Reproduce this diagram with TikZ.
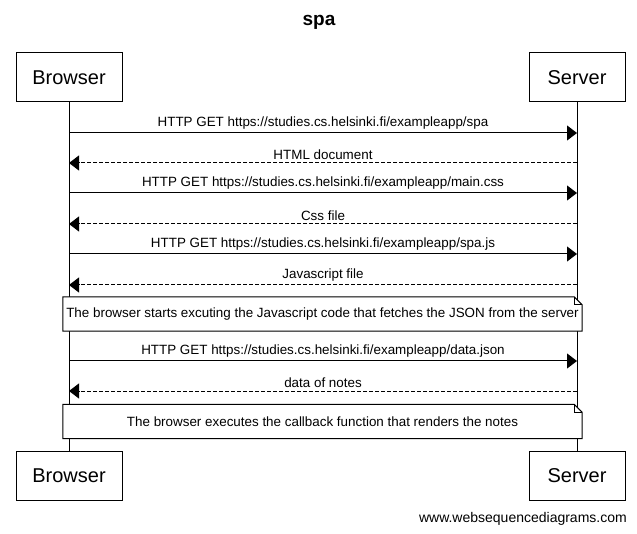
\documentclass[tikz,border=0pt]{standalone}
\usepackage{fontspec}
\setmainfont{Liberation Sans}
\usetikzlibrary{arrows.meta,calc}
\begin{document}
\begin{tikzpicture}[x=1pt,y=-1pt,
  actor/.style={draw,line width=1pt,minimum width=106pt,minimum height=49pt,inner sep=0pt,font=\fontsize{20}{24}\selectfont},
  lbl/.style={font=\fontsize{13.4}{15}\selectfont,inner sep=0pt,anchor=base},
  notetext/.style={inner sep=0pt,minimum width=519pt,minimum height=34pt},
  req/.style={line width=1pt,-{Triangle[length=10pt,width=15pt]}},
  resp/.style={line width=1pt,dash pattern=on 4pt off 2pt,-{Triangle[length=10pt,width=15pt]}},
  life/.style={line width=1pt}]
\useasboundingbox (0,0) rectangle (637,534);
\node[font=\fontsize{19}{23}\selectfont\bfseries] (title) at (319,22) {spa};
\node[actor] (bt) at (69,77.5) {Browser};
\node[actor,minimum width=96pt] (st) at (577,77.5) {Server};
\node[actor] (bb) at (69,475.5) {Browser};
\node[actor,minimum width=96pt] (sb) at (577,475.5) {Server};
\draw[life] (bt.south) -- (bb.north);
\draw[life] (st.south) -- (sb.north);
% coordinates on lifelines
\foreach \i/\y in {1/133,2/163,3/193,4/224,5/254,6/285,7/361,8/391}{
  \coordinate (b\i) at (bt.south |- 0,\y);
  \coordinate (s\i) at (st.south |- 0,\y);
}
\draw[req] (b1) -- (s1) node[lbl,midway,above=3pt] {HTTP GET https://studies.cs.helsinki.fi/exampleapp/spa};
\draw[resp] (s2) -- (b2) node[lbl,midway,above=3pt] {HTML document};
\draw[req] (b3) -- (s3) node[lbl,midway,above=3pt] {HTTP GET https://studies.cs.helsinki.fi/exampleapp/main.css};
\draw[resp] (s4) -- (b4) node[lbl,midway,above=3pt] {Css file};
\draw[req] (b5) -- (s5) node[lbl,midway,above=3pt] {HTTP GET https://studies.cs.helsinki.fi/exampleapp/spa.js};
\draw[resp] (s6) -- (b6) node[lbl,midway,above=3pt] {Javascript file};
\draw[req] (b7) -- (s7) node[lbl,midway,above=3pt] {HTTP GET https://studies.cs.helsinki.fi/exampleapp/data.json};
\draw[resp] (s8) -- (b8) node[lbl,midway,above=3pt] {data of notes};
% notes
\foreach \n/\y/\t in {n1/314/{The browser starts excuting the Javascript code that fetches the JSON from the server},
                      n2/421.5/{The browser executes the callback function that renders the notes}}{
  \node[notetext] (\n) at (322.5,\y) {};
  \draw[line width=1pt,fill=white] (\n.south west) -- (\n.north west) -- ($(\n.north east)+(-8,0)$) -- ($(\n.north east)+(0,8)$) -- (\n.south east) -- cycle;
  \draw[line width=0.6pt] ($(\n.north east)+(-8,0)$) -- ($(\n.north east)+(-8,8)$) -- ($(\n.north east)+(0,8)$);
  \node[font=\fontsize{13.4}{15}\selectfont,inner sep=0pt] at (\n.center) {\t};
}
\node[font=\fontsize{14}{16}\selectfont,inner sep=0pt,anchor=east] (foot) at (627,519) {www.websequencediagrams.com};
\end{tikzpicture}
\end{document}
